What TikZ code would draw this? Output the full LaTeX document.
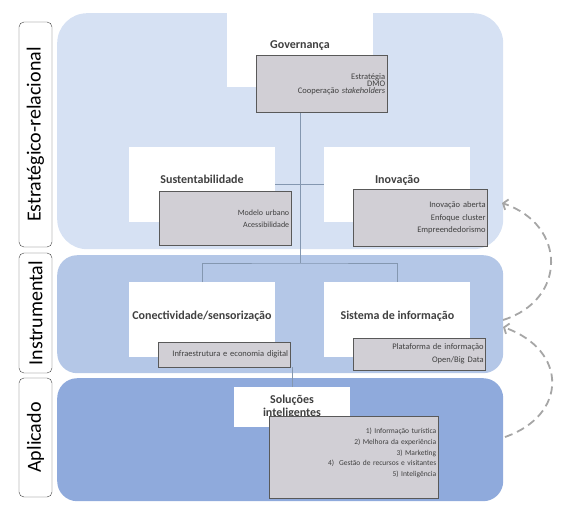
\documentclass[tikz,border=0pt]{standalone}
\usepackage{fontspec}
\setmainfont{Carlito}
\usetikzlibrary{arrows.meta,positioning}
\definecolor{bandtop}{HTML}{D6E1F3}
\definecolor{bandmid}{HTML}{B4C7E7}
\definecolor{bandlow}{HTML}{8FAADC}
\definecolor{boxgray}{HTML}{D1CFD5}
\definecolor{boxline}{HTML}{595959}
\definecolor{txtdark}{HTML}{404040}
\definecolor{linkgray}{HTML}{8497B0}
\definecolor{arrgray}{HTML}{A6A6A6}

\begin{document}
\begin{tikzpicture}[
  x=1pt, y=-1pt,
  band/.style={draw=none, inner sep=0pt, anchor=north west, rounded corners=20pt},
  layer/.style={draw=txtdark, fill=white, rounded corners=5pt, rotate=90, minimum height=33pt, inner sep=0pt, font=\fontsize{20}{24}\selectfont},
  topic/.style={fill=white, minimum width=146pt, minimum height=75pt, text depth=10pt, inner sep=0pt, text=txtdark, font=\bfseries\fontsize{12}{14}\selectfont},
  detail/.style={fill=boxgray, draw=boxline, line width=0.8pt, inner sep=2pt, anchor=north west, align=right, text=txtdark, font=\fontsize{8.5}{12}\selectfont},
  link/.style={draw=linkgray, line width=0.8pt},
  back/.style={draw=arrgray, line width=1.8pt, dash pattern=on 8pt off 5pt, -{Straight Barb[length=4pt, width=11pt]}},
]
  \useasboundingbox (0,0) rectangle (580,506);

  % Layers
  \node[band, fill=bandtop, minimum width=446pt, minimum height=236pt, rounded corners=30pt] (estr) at (57,13) {};
  \node[band, fill=bandmid, minimum width=446pt, minimum height=118pt] (instr) at (57,255) {};
  \node[band, fill=bandlow, minimum width=446pt, minimum height=123pt] (apl) at (57,378) {};

  \node[layer, minimum width=225pt] (estrlab) at (35.5,134.5) {Estratégico-relacional};
  \node[layer, minimum width=120pt] (instrlab) at (35.5,313) {Instrumental};
  \node[layer, minimum width=119pt] (apllab) at (35.5,437.5) {Aplicado};

  % Topics
  \node[topic] (gov) at (300,49.5) {Governança};
  \node[topic] (sust) at (202,184.5) {Sustentabilidade};
  \node[topic, right=49pt of sust] (inov) {Inovação};
  \node[topic, below=60pt of sust] (conect) {Conectividade/sensorização};
  \node[topic, right=49pt of conect] (sist) {Sistema de informação};
  \node[topic, minimum width=116pt, minimum height=40pt, text depth=, align=center, font=\bfseries\fontsize{12}{13}\selectfont] (sol) at (292,407) {Soluções\\inteligentes};

  % Links
  \coordinate (hub) at (gov.south |- 0,263);
  \draw[link] (gov.south) -- (hub);
  \draw[link] (sust.east) -- (inov.west);
  \draw[link] (conect.north) |- (hub) -| (sist.north);

  % Details
  \node[detail, minimum height=57pt, text width=127pt, font=\fontsize{8.5}{7.2}\selectfont, below right=-32pt and 29pt of gov.south west] (govd) {Estratégia\\DMO\\Cooperação \textit{stakeholders}};
  \node[detail, minimum height=54pt, text width=128pt, font=\fontsize{8}{12}\selectfont, below right=-31pt and 30pt of sust.south west] (sustd) {Modelo urbano\\Acessibilidade};
  \node[detail, minimum height=57pt, text width=130pt, font=\fontsize{8.5}{12.5}\selectfont, below right=-33pt and 29pt of inov.south west] (inovd) {Inovação aberta\\Enfoque cluster\\Empreendedorismo};
  \node[detail, minimum height=25pt, text width=128pt, below right=-16pt and 29pt of conect.south west] (conectd) {Infraestrutura e economia digital};
  \node[detail, minimum height=32pt, text width=128pt, font=\fontsize{8.5}{13}\selectfont, below right=-20pt and 29pt of sist.south west] (sistd) {Plataforma de informação\\Open/Big Data};
  \node[detail, minimum height=82pt, text width=165pt, font=\fontsize{7.5}{10.7}\selectfont, below right=-11pt and 35pt of sol.south west] (sold) {1) Informação turística\\2) Melhora da experiência\\3) Marketing\\4)\ \ Gestão de recursos e visitantes\\5) Inteligência\\\mbox{}};

  \draw[link] (sol.north) -- (sol.north |- conectd.south);

  % Feedback
  \coordinate (from1) at (503,320);
  \coordinate (to1) at (502,203);
  \coordinate (from2) at (505,437);
  \coordinate (to2) at (503,327);
  \draw[back] (from1) .. controls (567,300) and (567,225) .. (to1);
  \draw[back] (from2) .. controls (568,415) and (568,350) .. (to2);
\end{tikzpicture}
\end{document}
